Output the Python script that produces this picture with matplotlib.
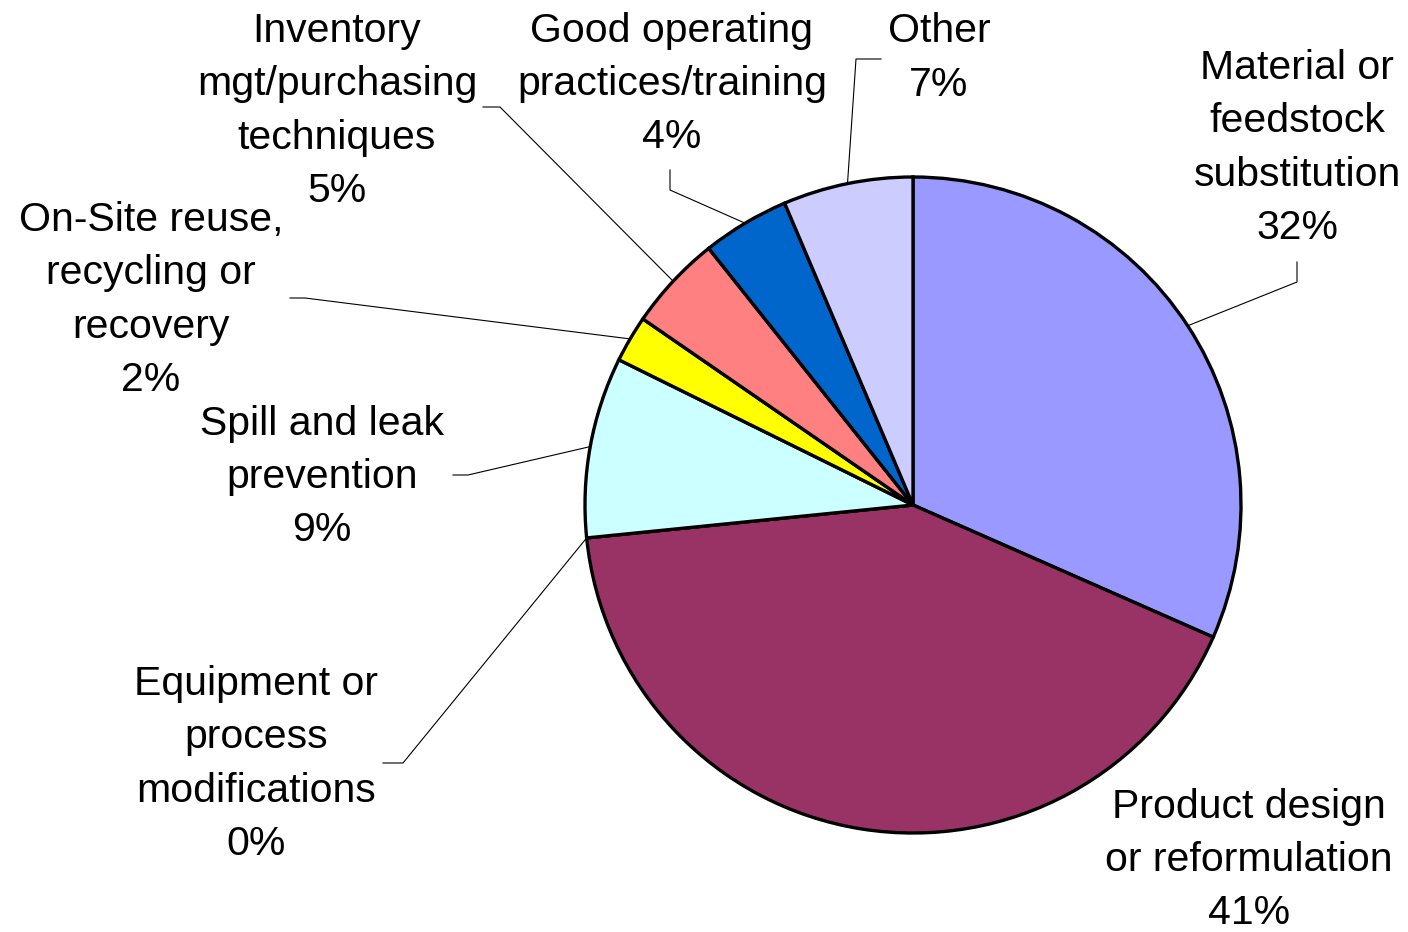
import numpy as np
import matplotlib
matplotlib.use("Agg")
import matplotlib.pyplot as plt

plt.rcParams["font.family"] = ["Liberation Sans", "DejaVu Sans"]

W, H = 1408, 932

# ---- data (clockwise from 12 o'clock) ---------------------------------------
categories = [
    "Material or\nfeedstock\nsubstitution",
    "Product design\nor reformulation",
    "Equipment or\nprocess\nmodifications",
    "Spill and leak\nprevention",
    "On-Site reuse,\nrecycling or\nrecovery",
    "Inventory\nmgt/purchasing\ntechniques",
    "Good operating\npractices/training",
    "Other",
]
shares = [31.6, 41.8, 0.0, 8.9, 2.3, 4.7, 4.3, 6.4]
pct_labels = ["32%", "41%", "0%", "9%", "2%", "5%", "4%", "7%"]
colors = ["#9999FF", "#993366", "#FFFFCC", "#CCFFFF", "#FFFF00",
          "#FF8080", "#0066CC", "#CCCCFF"]

# ---- layout (pixel coords, y measured from top) -----------------------------
CX, CY, R = 913, 505, 328
label_xy = [(1297, 148), (1249, 860), (256, 764), (322, 477),
            (151, 300), (337, 111), (672, 84), (939, 58)]
# leader elbow + end of short tick next to the label (None = no leader)
leaders = [
    [(1297, 282), (1297, 262)],
    None,
    [(403, 763), (383, 763)],
    [(468, 475), (453, 475)],
    [(305, 298), (290, 298)],
    [(500, 107), (483, 107)],
    [(670, 190), (670, 170)],
    [(856, 59), (881, 59)],
]

fig = plt.figure(figsize=(W / 100, H / 100), dpi=100)
ax = fig.add_axes([0, 0, 1, 1])
ax.pie(shares, colors=colors, startangle=90, counterclock=False,
       center=(CX, H - CY), radius=R,
       wedgeprops=dict(edgecolor="black", linewidth=2.4))
ax.set_xlim(0, W)
ax.set_ylim(0, H)
ax.set_aspect("equal")
ax.axis("off")

# leader lines start at the middle of each wedge's outer arc
cum = np.cumsum([0] + shares)
for i, (txt, pct) in enumerate(zip(categories, pct_labels)):
    lx, ly = label_xy[i]
    ax.text(lx, H - ly, f"{txt}\n{pct}", ha="center", va="center",
            fontsize=29.5, linespacing=1.51, color="black")
    if leaders[i] is None:
        continue
    mid = np.deg2rad((cum[i] + cum[i + 1]) / 2 / 100 * 360)
    sx, sy = CX + R * np.sin(mid), CY - R * np.cos(mid)
    pts = [(sx, sy)] + leaders[i]
    ax.plot([p[0] for p in pts], [H - p[1] for p in pts], color="black",
            lw=0.8, zorder=0.5)

fig.savefig("out.png", dpi=100, facecolor="white")
